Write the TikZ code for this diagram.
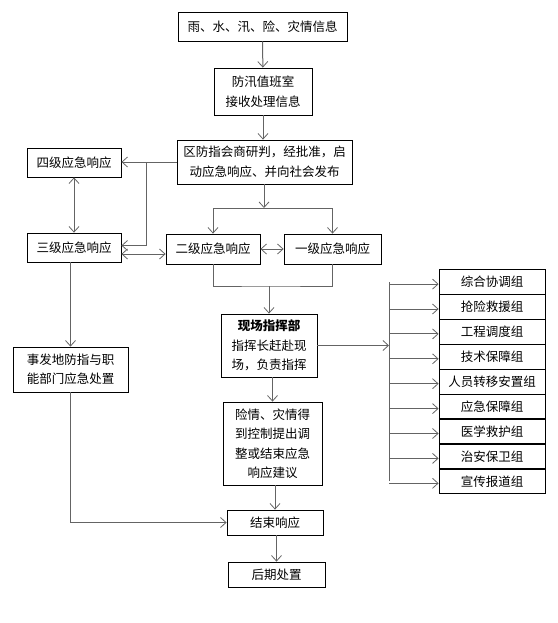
\documentclass[tikz,border=0pt]{standalone}
\usepackage{fontspec}
\setmainfont{Noto Sans CJK SC}
\usepackage{xcolor}
\definecolor{Black}{RGB}{0,0,0}
\definecolor{Gray}{RGB}{100,100,100}
\definecolor{White}{RGB}{255,255,255}
\usepackage{tikz}
\usetikzlibrary{arrows.meta}

\begin{document}
\begin{tikzpicture}[x=1pt, y=-1pt,
		box/.style={draw=Black, line width=0.8pt, fill=White, inner sep=0pt, align=center, font=\fontsize{12.5}{19.5}\selectfont},
		grpbox/.style={box, minimum width=106pt, minimum height=24.5pt},
		link/.style={draw=Gray, line width=1pt},
		>={Straight Barb[length=5.5pt, width=10pt, line width=0.8pt]}]
		
		\useasboundingbox (0,0) rectangle (557,623);
		
		% Boxes
		\node[box, minimum width=169pt, minimum height=29pt] (info)   at (262.5, 26.5) {雨、水、汛、险、灾情信息};
		\node[box, minimum width=98pt,  minimum height=47pt] (duty)   at (263, 91.5)   {防汛值班室\\接收处理信息};
		\node[box, minimum width=175pt, minimum height=44pt] (judge)  at (264.5, 162)  {区防指会商研判，经批准，启\\动应急响应、并向社会发布};
		
		\node[box, minimum width=94pt,  minimum height=29pt] (four)   at (74, 162.5)   {四级应急响应};
		\node[box, minimum width=94pt,  minimum height=29pt] (three)  at (74, 247.5)   {三级应急响应};
		\node[box, minimum width=94pt,  minimum height=30pt] (two)    at (213, 249)    {二级应急响应};
		\node[box, minimum width=97pt,  minimum height=30pt] (one)    at (332.5, 249)  {一级应急响应};
		
		\node[box, minimum width=96pt,  minimum height=63pt] (site)   at (269, 345.5)  {\textbf{现场指挥部}\\指挥长赶赴现\\场，负责指挥};
		\node[box, minimum width=99pt,  minimum height=83pt] (ctrl)   at (272.5, 443.5){险情、灾情得\\到控制提出调\\整或结束应急\\响应建议};
		\node[box, minimum width=115pt, minimum height=45pt] (local)  at (70.5, 369.5) {事发地防指与职\\能部门应急处置};
		\node[box, minimum width=96pt,  minimum height=25pt] (finish) at (275, 522.5)  {结束响应};
		\node[box, minimum width=97pt,  minimum height=25pt] (later)  at (276.5, 574.5){后期处置};
		
		% Groups
		\foreach \grp [count=\i] in {综合协调组,抢险救援组,工程调度组,技术保障组,人员转移安置组,应急保障组,医学救护组,治安保卫组,宣传报道组}
			\node[grpbox] (g\i) at (492, 257.2 + 24.9*\i) {\grp};
		
		% Points
		\coordinate (fork)  at (146, 162);
		\coordinate (split) at (264, 208);
		\coordinate (merge) at (269, 286);
		\coordinate (bus)   at (389, 346);
		
		% Lines
		\draw[link, ->] (info) -- (duty);
		\draw[link, ->] (duty.south) -- (duty.south |- judge.north);
		\draw[link, ->] (judge.south -| split) -- (split);
		\draw[link] (two.north |- split) -- (one.north |- split);
		\draw[link, ->] (two.north |- split) -- (two.north);
		\draw[link, ->] (one.north |- split) -- (one.north);
		
		\draw[link, ->] (judge.west) -- (judge.west -| four.east);
		\draw[link, ->] (fork) |- ([yshift=2pt]three.east);
		\draw[link, <->] (four) -- (three);
		\draw[link, <->] ([yshift=-6.5pt]three.east) -- ([yshift=-6.5pt]three.east -| two.west);
		\draw[link, <->] (two) -- (one);
		
		\draw[link] (two.south) |- (merge) -| (one.south);
		\draw[link, ->] (merge) -- (site.north);
		
		\draw[link, ->] (site.east) -- (site.east -| bus);
		\draw[link] (g1.west -| bus) -- (g9.west -| bus);
		\foreach \i in {1,...,9}
			\draw[link, ->] ([yshift=-2pt]g\i.west -| bus) -- ([yshift=-2pt]g\i.west);
		
		\draw[link, ->] (three.south -| local) -- (local.north);
		\draw[link, ->] (local.south) |- (finish.west);
		\draw[link, ->] (site.south -| ctrl) -- (ctrl.north);
		\draw[link, ->] (ctrl.south -| finish) -- (finish.north);
		\draw[link, ->] (finish.south -| later) -- (later.north);
		
	\end{tikzpicture}
\end{document}
